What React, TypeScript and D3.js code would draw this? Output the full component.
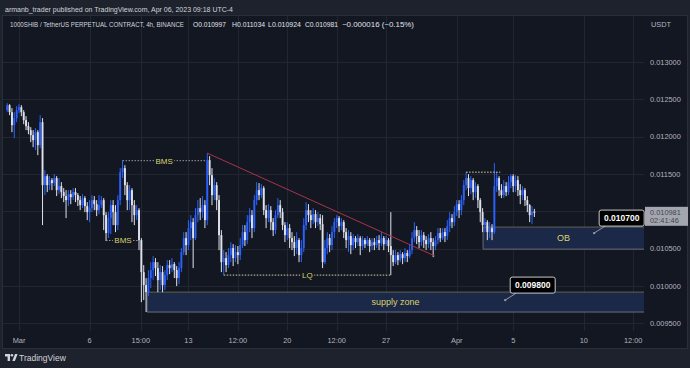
import React from "react";
import * as d3 from "d3";

const W = 690;
const H = 368;

// ---- data (4h candles, open = previous close) ----
const firstOpen = 0.012357;
const candleStartUTC = Date.UTC(2023, 1, 28, 4); // Feb 28 04:00
const candleStepHours = 4;

const closes = [
  0.012424, 0.01233, 0.012156, 0.01225, 0.012357, 0.012397, 0.01233, 0.012223, 0.012143, 0.012089,
  0.012022, 0.011955, 0.012062, 0.011888, 0.012196, 0.011352, 0.011473, 0.011352, 0.011419, 0.011379,
  0.011446, 0.011285, 0.011339, 0.011258, 0.011205, 0.011151, 0.011231, 0.011191, 0.011258, 0.011218,
  0.011151, 0.011084, 0.011178, 0.011071, 0.01099, 0.011044, 0.011151, 0.011097, 0.011017, 0.011084,
  0.011151, 0.01095, 0.010709, 0.01091, 0.011084, 0.01099, 0.010816, 0.011151, 0.011526, 0.01158,
  0.011352, 0.011151, 0.011285, 0.011084, 0.01095, 0.011017, 0.010615, 0.010186, 0.010012, 0.009918,
  0.010106, 0.010213, 0.01032, 0.01024, 0.010079, 0.010186, 0.010012, 0.010146, 0.01028, 0.01024,
  0.010293, 0.010213, 0.010106, 0.01024, 0.010454, 0.010642, 0.010548, 0.010776, 0.010856, 0.010642,
  0.01095, 0.011044, 0.01099, 0.011084, 0.010883, 0.011687, 0.011486, 0.011218, 0.011352, 0.011151,
  0.010682, 0.01032, 0.010374, 0.01028, 0.010414, 0.010508, 0.010374, 0.010454, 0.010414, 0.010548,
  0.010722, 0.010615, 0.010856, 0.01095, 0.010776, 0.011151, 0.011285, 0.011218, 0.011312, 0.011017,
  0.01091, 0.011017, 0.010856, 0.010749, 0.01095, 0.011084, 0.01099, 0.010816, 0.010682, 0.010776,
  0.010642, 0.010588, 0.010508, 0.010615, 0.010414, 0.010508, 0.010816, 0.011017, 0.01095, 0.010883,
  0.010963, 0.010856, 0.01091, 0.010829, 0.01032, 0.010508, 0.010642, 0.010548, 0.010722, 0.010856,
  0.01091, 0.010803, 0.010856, 0.010722, 0.010615, 0.010669, 0.010548, 0.010642, 0.010588, 0.010642,
  0.010535, 0.010615, 0.010561, 0.010615, 0.010535, 0.010588, 0.010548, 0.010615, 0.010575, 0.010642,
  0.010561, 0.010615, 0.010535, 0.010414, 0.01032, 0.010414, 0.010347, 0.010427, 0.010374, 0.010441,
  0.010401, 0.010481, 0.010642, 0.010749, 0.010669, 0.010588, 0.010682, 0.010615, 0.010561, 0.010642,
  0.010588, 0.010535, 0.010615, 0.010709, 0.010642, 0.010722, 0.010669, 0.010803, 0.01091, 0.010856,
  0.01099, 0.011097, 0.011017, 0.011151, 0.011352, 0.011446, 0.011312, 0.011419, 0.011258, 0.011339,
  0.011151, 0.01099, 0.010816, 0.010856, 0.010722, 0.010776, 0.010722, 0.011339, 0.011446, 0.011285,
  0.011218, 0.011339, 0.011258, 0.011392, 0.011473, 0.011339, 0.011419, 0.011285, 0.011218, 0.011285,
  0.011151, 0.011084, 0.01095, 0.010997, 0.010981,
];

const highs = [
  0.012451, 0.012437, 0.012384, 0.01233, 0.012411, 0.012437, 0.012424, 0.012357, 0.012277, 0.012196,
  0.012129, 0.012089, 0.012116, 0.012089, 0.01229, 0.01225, 0.011553, 0.011499, 0.011473, 0.011446,
  0.011499, 0.011473, 0.011446, 0.011392, 0.011312, 0.011285, 0.011285, 0.011285, 0.011312, 0.011312,
  0.011245, 0.011205, 0.011231, 0.011205, 0.011124, 0.011151, 0.011218, 0.011205, 0.011151, 0.011218,
  0.011205, 0.011178, 0.01099, 0.01099, 0.011151, 0.011151, 0.011084, 0.011218, 0.01158, 0.011687,
  0.01162, 0.011392, 0.011352, 0.011312, 0.011151, 0.011084, 0.011044, 0.010642, 0.01028, 0.010106,
  0.010213, 0.01032, 0.010401, 0.010374, 0.01032, 0.01028, 0.010267, 0.010213, 0.010347, 0.010347,
  0.010374, 0.01032, 0.010267, 0.01032, 0.010508, 0.010722, 0.010722, 0.010883, 0.01095, 0.01091,
  0.011044, 0.011151, 0.011178, 0.011205, 0.011151, 0.011781, 0.011741, 0.01158, 0.011446, 0.011392,
  0.011218, 0.010749, 0.010481, 0.010454, 0.010508, 0.010588, 0.010561, 0.010548, 0.010535, 0.010642,
  0.010816, 0.010816, 0.01095, 0.011044, 0.011017, 0.011218, 0.011392, 0.011379, 0.011365, 0.011339,
  0.011084, 0.011097, 0.011071, 0.01091, 0.011017, 0.011178, 0.011151, 0.011044, 0.010856, 0.010856,
  0.010829, 0.010722, 0.010669, 0.010722, 0.010642, 0.010615, 0.01091, 0.011124, 0.011097, 0.011017,
  0.011044, 0.011017, 0.01099, 0.010963, 0.01095, 0.010615, 0.010722, 0.010695, 0.010803, 0.01091,
  0.01095, 0.010937, 0.01091, 0.010883, 0.010776, 0.010749, 0.010722, 0.010695, 0.010669, 0.010695,
  0.010669, 0.010669, 0.010642, 0.010669, 0.010642, 0.010642, 0.010642, 0.010669, 0.010682, 0.010722,
  0.010669, 0.010669, 0.010642, 0.01099, 0.010481, 0.010481, 0.010454, 0.010481, 0.010454, 0.010508,
  0.010481, 0.010561, 0.010722, 0.010856, 0.010803, 0.010749, 0.010749, 0.010722, 0.010669, 0.010695,
  0.010722, 0.010642, 0.010669, 0.010776, 0.010776, 0.010776, 0.010776, 0.010883, 0.01099, 0.010963,
  0.011071, 0.011151, 0.011151, 0.011218, 0.011419, 0.011526, 0.011499, 0.011473, 0.011446, 0.011392,
  0.011365, 0.011178, 0.011044, 0.01091, 0.010883, 0.010856, 0.010829, 0.011647, 0.011526, 0.011473,
  0.011365, 0.011419, 0.011392, 0.011473, 0.011499, 0.011499, 0.011486, 0.011473, 0.011365, 0.011339,
  0.011312, 0.011205, 0.011097, 0.011071, 0.011034,
];

const lows = [
  0.01233, 0.01229, 0.012062, 0.011982, 0.012196, 0.012317, 0.012277, 0.012169, 0.012089, 0.012035,
  0.011928, 0.011861, 0.011821, 0.011754, 0.011848, 0.010816, 0.011218, 0.011258, 0.011285, 0.011285,
  0.011339, 0.011205, 0.011231, 0.011178, 0.011124, 0.01091, 0.011071, 0.011097, 0.011151, 0.011124,
  0.011071, 0.011017, 0.011044, 0.01099, 0.010883, 0.010856, 0.01099, 0.011017, 0.010937, 0.010963,
  0.011044, 0.010749, 0.010602, 0.010642, 0.010695, 0.010816, 0.010722, 0.010749, 0.011084, 0.011446,
  0.011218, 0.011017, 0.011017, 0.010856, 0.010816, 0.010883, 0.010481, 0.009784, 0.009811, 0.009651,
  0.009865, 0.009972, 0.010079, 0.010133, 0.009918, 0.009945, 0.009918, 0.009945, 0.010079, 0.010159,
  0.010186, 0.010106, 0.009999, 0.010025, 0.010186, 0.010414, 0.010414, 0.010481, 0.010615, 0.01024,
  0.010615, 0.010856, 0.010883, 0.01091, 0.010776, 0.010816, 0.011352, 0.011084, 0.011151, 0.011017,
  0.010481, 0.010186, 0.010146, 0.010186, 0.01024, 0.01032, 0.010267, 0.01032, 0.010293, 0.010347,
  0.010508, 0.010535, 0.010561, 0.010722, 0.010642, 0.010722, 0.011084, 0.011151, 0.011178, 0.01095,
  0.010776, 0.010856, 0.010749, 0.010669, 0.010695, 0.01091, 0.01091, 0.010749, 0.010588, 0.010615,
  0.010508, 0.010481, 0.010401, 0.010427, 0.01032, 0.01032, 0.010454, 0.010749, 0.010856, 0.010776,
  0.010829, 0.010776, 0.010803, 0.010749, 0.01024, 0.010293, 0.010427, 0.010454, 0.010481, 0.010642,
  0.010776, 0.010722, 0.010749, 0.010642, 0.010508, 0.010454, 0.010427, 0.010481, 0.010508, 0.010535,
  0.010414, 0.010481, 0.010508, 0.010535, 0.010454, 0.010481, 0.010481, 0.010508, 0.010481, 0.010535,
  0.010481, 0.010535, 0.010454, 0.010146, 0.010267, 0.010293, 0.01028, 0.01032, 0.010293, 0.01032,
  0.01032, 0.010374, 0.010427, 0.010588, 0.010561, 0.010508, 0.010535, 0.010508, 0.010481, 0.010508,
  0.010481, 0.010387, 0.010481, 0.010561, 0.010588, 0.010615, 0.010588, 0.010615, 0.010722, 0.010776,
  0.010803, 0.010937, 0.01091, 0.01095, 0.011084, 0.011285, 0.011205, 0.011231, 0.011151, 0.011178,
  0.011044, 0.010856, 0.010722, 0.010722, 0.010615, 0.010642, 0.010615, 0.010695, 0.011258, 0.011205,
  0.011178, 0.011178, 0.011205, 0.011218, 0.011312, 0.011258, 0.011258, 0.011205, 0.011097, 0.011151,
  0.011071, 0.01099, 0.010856, 0.010829, 0.010924,
];

// ---- axes ----
const priceTicks = [0.013, 0.0125, 0.012, 0.0115, 0.011, 0.0105, 0.01, 0.0095];
const hiddenPriceLabels = [0.011];
const timeTickDates = [
  Date.UTC(2023, 2, 1), Date.UTC(2023, 2, 6), Date.UTC(2023, 2, 9, 15), Date.UTC(2023, 2, 13),
  Date.UTC(2023, 2, 16, 12), Date.UTC(2023, 2, 20), Date.UTC(2023, 2, 23, 12), Date.UTC(2023, 2, 27),
  Date.UTC(2023, 3, 1), Date.UTC(2023, 3, 5), Date.UTC(2023, 3, 10), Date.UTC(2023, 3, 13, 12),
];
const timeTickLabels = ["Mar", "6", "15:00", "13", "12:00", "20", "12:00", "27", "Apr", "5", "10", "12:00"];

// ---- annotations (candle index, price) ----
const bmsHigh = { from: 49, to: 84.4, price: 0.01168, label: "BMS" };
const bmsLow = { from: 42, to: 56.4, price: 0.01061, label: "BMS" };
const lqLine = { from: 92, to: 163, price: 0.010146, label: "LQ" };
const topDotted = { from: 195, to: 209.5, price: 0.011526 };
const trendLine = { from: 85, fromPrice: 0.011781, to: 181.8, toPrice: 0.010401 };
const supplyZone = { from: 59.4, top: 0.009918, bottom: 0.009651, label: "supply zone" };
const obZone = { from: 202.2, top: 0.01079, bottom: 0.010494, label: "OB" };
const supplyCallout = { at: 211.6, price: 0.009811, text: "0.009800" };
const obCallout = { at: 249.4, price: 0.010709, text: "0.010700" };

const headerText = "armanb_trader published on TradingView.com, Apr 06, 2023 09:18 UTC-4";
const symbolText = "1000SHIB / TetherUS PERPETUAL CONTRACT, 4h, BINANCE";
const ohlcLabels = ["O", "H", "L", "C"];
const ohlcValues = ["0.010997", "0.011034", "0.010924", "0.010981"];
const changeText = "\u22120.000016 (\u22120.15%)";
const lastPriceText = "0.010981";
const countdownText = "02:41:46";

// ---- styles ----
const FONT = "'Liberation Sans', Arial, sans-serif";
const UP = "#2962ff";
const DOWN = "#e0e3eb";
const PANE_BG = "#131722";
const OUTER_BG = "#1e222d";
const GRID = "#222631";
const TEXT = "#b2b5be";
const YELLOW = "#d9d36a";

export default function App() {
  const plotLeft = 3;
  const plotRight = 644;
  const paneTop = 16;
  const paneBottom = 331;

  const x = d3
    .scaleUtc()
    .domain([new Date(Date.UTC(2023, 2, 1)), new Date(Date.UTC(2023, 3, 10))])
    .range([19, 583.8]);
  const y = d3.scaleLinear().domain([0.0095, 0.013]).range([323.3, 62.2]);

  const stepMs = candleStepHours * 3600 * 1000;
  const xi = (i: number) => x(new Date(candleStartUTC + i * stepMs));

  const candles = closes.map((c, i) => {
    const o = i === 0 ? firstOpen : closes[i - 1];
    return { i, o, c, h: highs[i], l: lows[i], up: c >= o };
  });

  const bodyW = 1.9;

  const dotted = (a: { from: number; to: number; price: number }, color: string, dash: string, key: string) => (
    <line key={key} x1={xi(a.from)} x2={xi(a.to)} y1={y(a.price)} y2={y(a.price)} stroke={color} strokeWidth={1} strokeDasharray={dash} />
  );

  const labelOnLine = (a: { from: number; to: number; price: number; label: string }, key: string, w: number) => {
    const cx = (xi(a.from) + xi(a.to)) / 2;
    const cy = y(a.price);
    return (
      <g key={key}>
        <rect x={cx - w / 2} y={cy - 5} width={w} height={10} fill={PANE_BG} />
        <text x={cx} y={cy + 3} textAnchor="middle" fontSize={8} fill={YELLOW} fontFamily={FONT}>
          {a.label}
        </text>
      </g>
    );
  };

  const zone = (z: { from: number; top: number; bottom: number; label: string }, key: string) => {
    const x0 = xi(z.from);
    const y0 = y(z.top);
    const y1 = y(z.bottom);
    return (
      <g key={key}>
        <rect x={x0} y={y0} width={plotRight - x0} height={y1 - y0} fill="#1b2848" />
        <line x1={x0} x2={plotRight} y1={y0} y2={y0} stroke="#5e6452" strokeWidth={1} />
        <line x1={x0} x2={plotRight} y1={y1} y2={y1} stroke="#6a6d78" strokeWidth={1} />
        <line x1={x0} x2={x0} y1={y0} y2={y1} stroke="#6a6d78" strokeWidth={1} />
        <text x={(x0 + plotRight) / 2} y={(y0 + y1) / 2 + 3} textAnchor="middle" fontSize={9} fill={YELLOW} fontFamily={FONT}>
          {z.label}
        </text>
      </g>
    );
  };

  const callout = (c: { at: number; price: number; text: string }, key: string) => {
    const ax = xi(c.at);
    const ay = y(c.price);
    const bx = ax + 5;
    const by = ay - 23;
    const bw = 45;
    const bh = 16;
    return (
      <g key={key}>
        <line x1={ax} y1={ay} x2={bx + 6} y2={by + bh} stroke="#9598a1" strokeWidth={1} />
        <circle cx={ax} cy={ay} r={1.2} fill="#9598a1" />
        <rect x={bx} y={by} width={bw} height={bh} rx={2} fill="#000" stroke="#c8cad0" strokeWidth={1} />
        <text x={bx + bw / 2} y={by + 11.3} textAnchor="middle" fontSize={8.5} fontWeight="bold" fill="#ffffff" fontFamily={FONT}>
          {c.text}
        </text>
      </g>
    );
  };

  const lastY = y(closes[closes.length - 1]);
  const ohlcX = [193, 232, 268, 305];

  return (
    <div style={{ position: "fixed", left: 0, top: 0, width: W, height: H }}>
      <svg width={W} height={H} style={{ display: "block" }}>
        <rect x={0} y={0} width={W} height={H} fill={OUTER_BG} />
        <text x={5} y={12} fontSize={8} fill="#d1d4dc" fontFamily={FONT} textLength={228} lengthAdjust="spacingAndGlyphs">
          {headerText}
        </text>
        <rect x={2.5} y={15.5} width={W - 5} height={333} fill={PANE_BG} stroke="#2a2e39" strokeWidth={1} />

        {/* grid */}
        {priceTicks.map((p) => (
          <line key={"hg" + p} x1={plotLeft} x2={plotRight} y1={Math.round(y(p)) + 0.5} y2={Math.round(y(p)) + 0.5} stroke={GRID} strokeWidth={1} />
        ))}
        {timeTickDates.map((t) => (
          <line key={"vg" + t} x1={Math.round(x(new Date(t))) + 0.5} x2={Math.round(x(new Date(t))) + 0.5} y1={paneTop} y2={paneBottom} stroke={GRID} strokeWidth={1} />
        ))}

        {/* zones */}
        {zone(supplyZone, "supply")}
        {zone(obZone, "ob")}

        {/* candles */}
        {candles.map((d) => {
          const cx = xi(d.i);
          const col = d.up ? UP : DOWN;
          const yTop = y(Math.max(d.o, d.c));
          const yBot = y(Math.min(d.o, d.c));
          return (
            <g key={"c" + d.i}>
              <line x1={cx} x2={cx} y1={y(d.h)} y2={y(d.l)} stroke={col} strokeWidth={1} />
              <rect x={cx - bodyW / 2} y={yTop} width={bodyW} height={Math.max(1, yBot - yTop)} fill={col} />
            </g>
          );
        })}

        {/* annotations */}
        <line
          x1={xi(trendLine.from)}
          y1={y(trendLine.fromPrice)}
          x2={xi(trendLine.to)}
          y2={y(trendLine.toPrice)}
          stroke="#a8344c"
          strokeWidth={1}
        />
        {dotted(bmsHigh, "#9598a1", "1.5,1.5", "bh")}
        {labelOnLine(bmsHigh, "bhl", 20)}
        {dotted(bmsLow, "#9598a1", "1.5,1.5", "bl")}
        {labelOnLine(bmsLow, "bll", 20)}
        {dotted(lqLine, "#d8d6a8", "1.5,1.5", "lq")}
        {labelOnLine(lqLine, "lql", 14)}
        {dotted(topDotted, "#d8d6a8", "1.5,1.5", "td")}

        {callout(supplyCallout, "sc")}
        {callout(obCallout, "oc")}

        {/* legend */}
        <text x={10} y={26.5} fontSize={6.6} fontFamily={FONT} fill="#d1d4dc" textLength={174} lengthAdjust="spacingAndGlyphs">
          {symbolText}
        </text>
        {ohlcLabels.map((l, k) => (
          <text key={"ohlc" + l} x={ohlcX[k]} y={26.5} fontSize={7} fontFamily={FONT} fill="#e0e3eb" textLength={33} lengthAdjust="spacingAndGlyphs">
            {l + ohlcValues[k]}
          </text>
        ))}
        <text x={342} y={26.5} fontSize={7} fontFamily={FONT} fill="#e0e3eb" textLength={72} lengthAdjust="spacingAndGlyphs">
          {changeText}
        </text>

        {/* price axis */}
        <text x={651} y={26.5} fontSize={7.4} fill={TEXT} fontFamily={FONT}>
          USDT
        </text>
        {priceTicks
          .filter((p) => !hiddenPriceLabels.includes(p))
          .map((p) => (
            <text key={"pl" + p} x={650} y={y(p) + 2.6} fontSize={7.4} fill={TEXT} fontFamily={FONT}>
              {d3.format(".6f")(p)}
            </text>
          ))}
        <rect x={645} y={lastY - 6} width={43} height={19} fill="#a3a6af" />
        <text x={650} y={lastY + 2.6} fontSize={7.4} fill="#434651" fontFamily={FONT}>
          {lastPriceText}
        </text>
        <text x={650} y={lastY + 10.5} fontSize={7.4} fill="#434651" fontFamily={FONT}>
          {countdownText}
        </text>

        {/* time axis */}
        {timeTickDates.map((t, k) => (
          <text key={"tl" + t} x={x(new Date(t))} y={343} textAnchor="middle" fontSize={7.4} fill={TEXT} fontFamily={FONT}>
            {timeTickLabels[k]}
          </text>
        ))}

        {/* footer logo */}
        <g transform="translate(5,354)" fill="#d1d4dc">
          <path d="M0 0 H5 V7 H2.6 V2.4 H0 Z" />
          <circle cx={6.9} cy={1.3} r={1.3} />
          <path d="M7.3 7 L10 0 H12.6 L9.9 7 Z" />
        </g>
        <text x={19} y={361} fontSize={8.5} fill="#d1d4dc" fontFamily={FONT}>
          TradingView
        </text>
      </svg>
    </div>
  );
}
